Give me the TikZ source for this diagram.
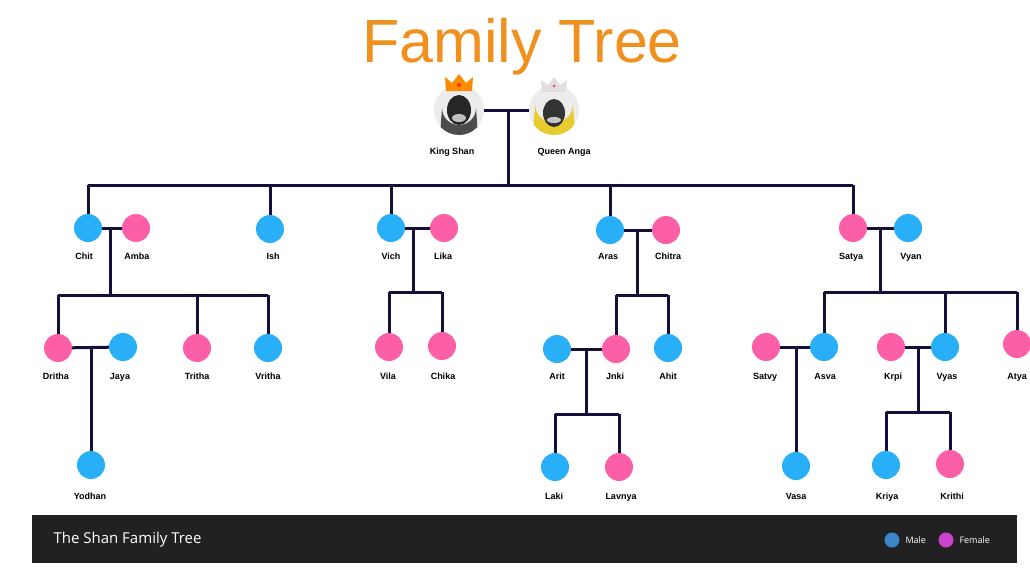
\documentclass[tikz,border=0pt]{standalone}
\usepackage{fontspec}
\setmainfont{Liberation Sans}
\newfontfamily\footfont{Open Sans}
\usetikzlibrary{backgrounds}
\begin{document}
\definecolor{mblue}{HTML}{29AEF8}
\definecolor{fpink}{HTML}{FC5FA8}
\definecolor{ln}{HTML}{14103A}
\definecolor{ttl}{HTML}{F0901E}
\definecolor{lgm}{HTML}{3A86C8}
\definecolor{lgf}{HTML}{CC44CC}
\begin{tikzpicture}[x=1pt,y=-1pt,
  p/.style={circle,fill=#1,minimum size=28pt,inner sep=0pt},
  lab/.style={font=\bfseries\fontsize{9}{10}\selectfont,text=black,anchor=base},
  e/.style={draw=ln,line width=3pt}]
\useasboundingbox (0,0) rectangle (1030,570);
\node[text=ttl,font=\fontsize{61}{63}\selectfont,anchor=base] (title) at (522,62) {Family Tree};
% avatars
\node[circle,fill=gray!15,minimum size=50pt,inner sep=0pt] (king) at (459,110) {};
\begin{scope}
\clip (459,110) circle (25);
\fill[gray!60!black] (440,136) -- (442,108) arc (180:0:17) -- (478,136) -- cycle;
\fill[black!85] (459,110) ellipse (12 and 15);
\fill[gray!50] (459,118) ellipse (7 and 4);
\end{scope}
\fill[orange!90!yellow] (446,91) -- (445,77) -- (452,83) -- (459,74) -- (466,83) -- (473,77) -- (472,91) -- cycle;
\fill[red!80] (459,85) circle (2);
\node[circle,fill=gray!15,minimum size=50pt,inner sep=0pt] (queen) at (554,110) {};
\begin{scope}
\clip (554,110) circle (25);
\fill[yellow!60!brown] (533,136) -- (535,104) arc (180:0:19) -- (575,136) -- cycle;
\fill[black!80] (554,113) ellipse (11 and 14);
\fill[gray!45] (554,120) ellipse (7 and 3);
\end{scope}
\fill[gray!25] (542,92) -- (541,80) -- (548,85) -- (554,77) -- (560,85) -- (567,80) -- (566,92) -- cycle;
\fill[red!70] (554,86) circle (1.5);
\node[lab] (kl) at (452,154) {King Shan};
\node[lab] (ql) at (564,154) {Queen Anga};
% nodes and labels
\foreach \n/\c/\x/\y/\t/\lx/\ly in {
 chit/mblue/88/228/Chit/84/259, amba/fpink/136/228/Amba/137/259, ish/mblue/270/229/Ish/273/259,
 vich/mblue/391/228/Vich/391/259, lika/fpink/444/228/Lika/443/259,
 aras/mblue/610/230/Aras/608/259, chitra/fpink/666/230/Chitra/668/259,
 satya/fpink/853/228/Satya/851/259, vyan/mblue/908/228/Vyan/911/259,
 dritha/fpink/58/348/Dritha/56/379, jaya/mblue/123/347/Jaya/120/379, tritha/fpink/197/348/Tritha/197/379, vritha/mblue/268/348/Vritha/268/379,
 yodhan/mblue/91/465/Yodhan/90/499,
 vila/fpink/389/347/Vila/388/379, chika/fpink/442/346/Chika/443/379,
 arit/mblue/557/349/Arit/557/379, jnki/fpink/616/349/Jnki/615/379, ahit/mblue/668/348/Ahit/668/379,
 laki/mblue/555/467/Laki/554/499, lavnya/fpink/619/467/Lavnya/621/499,
 satvy/fpink/766/347/Satvy/765/379, asva/mblue/824/347/Asva/825/379, krpi/fpink/891/347/Krpi/893/379, vyas/mblue/945/347/Vyas/947/379, atya/fpink/1017/344/Atya/1017/379,
 vasa/mblue/796/466/Vasa/796/499, kriya/mblue/886/465/Kriya/887/499, krithi/fpink/950/464/Krithi/952/499}{
 \node[p=\c] (\n) at (\x,\y) {};
 \node[lab] (\n-l) at (\lx,\ly) {\t};
}
\begin{pgfonlayer}{background}
\draw[e] (king) -- (queen);
\coordinate (r) at (508,110);
\draw[e] (r) -- (508,185);
\draw[e] (88,185) -- (853,185);
\draw[e] (88,185) -- (chit); \draw[e] (270,185) -- (ish); \draw[e] (391,185) -- (vich);
\draw[e] (610,185) -- (aras); \draw[e] (853,185) -- (satya);
\draw[e] (chit) -- (amba); \draw[e] (vich) -- (lika); \draw[e] (aras) -- (chitra); \draw[e] (satya) -- (vyan);
\draw[e] (110,228) -- (110,295); \draw[e] (58,295) -- (268,295);
\draw[e] (58,295) -- (dritha); \draw[e] (197,295) -- (tritha); \draw[e] (268,295) -- (vritha);
\draw[e] (dritha) -- (jaya); \draw[e] (91,348) -- (yodhan);
\draw[e] (413,228) -- (413,292); \draw[e] (389,292) -- (442,292);
\draw[e] (389,292) -- (vila); \draw[e] (442,292) -- (chika);
\draw[e] (637,230) -- (637,295); \draw[e] (616,295) -- (668,295);
\draw[e] (616,295) -- (jnki); \draw[e] (668,295) -- (ahit);
\draw[e] (arit) -- (jnki); \draw[e] (586,349) -- (586,414); \draw[e] (555,414) -- (619,414);
\draw[e] (555,414) -- (laki); \draw[e] (619,414) -- (lavnya);
\draw[e] (880,228) -- (880,292); \draw[e] (824,292) -- (1017,292);
\draw[e] (824,292) -- (asva); \draw[e] (945,292) -- (vyas); \draw[e] (1017,292) -- (atya);
\draw[e] (satvy) -- (asva); \draw[e] (796,347) -- (vasa);
\draw[e] (krpi) -- (vyas); \draw[e] (918,347) -- (918,412); \draw[e] (886,412) -- (950,412);
\draw[e] (886,412) -- (kriya); \draw[e] (950,412) -- (krithi);
\end{pgfonlayer}
% footer
\fill[black!87] (32,515) rectangle (1017,563);
\node[anchor=west,text=white,font=\footfont\fontsize{15}{16}\selectfont] (foot) at (50,540) {The Shan Family Tree};
\node[circle,fill=lgm,minimum size=15pt,inner sep=0pt] (lm) at (892,540) {};
\node[anchor=west,text=white,font=\footfont\fontsize{9}{10}\selectfont] (lmt) at (902,540) {Male};
\node[circle,fill=lgf,minimum size=15pt,inner sep=0pt] (lf) at (946,540) {};
\node[anchor=west,text=white,font=\footfont\fontsize{9}{10}\selectfont] (lft) at (956,540) {Female};
\end{tikzpicture}
\end{document}
